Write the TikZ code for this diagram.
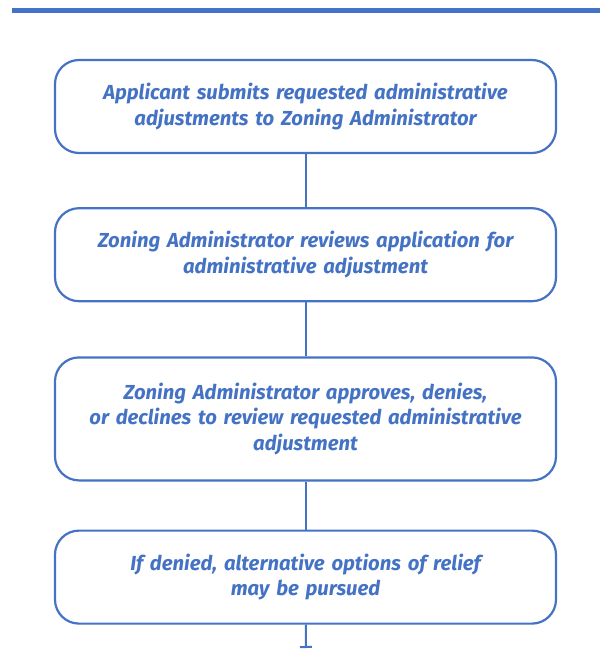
\documentclass[tikz,border=0pt]{standalone}
\usepackage{fontspec}
\setmainfont{Fira Sans}
\definecolor{zoneblue}{RGB}{68, 114, 196}
\usetikzlibrary{arrows.meta, positioning}

\begin{document}
\begin{tikzpicture}[
        x=1pt, y=-1pt,
        node distance=53pt,
        stepbox/.style={rectangle, rounded corners=24pt, draw=zoneblue, line width=2.2pt,
                    text=zoneblue, text width=470pt, minimum width=501pt,
                    minimum height=93pt, align=center,
                    font=\fontsize{20.3}{25.5}\selectfont\bfseries\itshape},
        link/.style={line width=2pt, color=zoneblue}
      ]
        \useasboundingbox (0,0) rectangle (605,656);
        \draw[line width=5pt, zoneblue] (12,10.5) -- (600,10.5);
        \node[stepbox] (submit) at (305.5,106.5) {Applicant submits requested administrative\\adjustments to Zoning Administrator};
        \node[stepbox, below=of submit] (review) {Zoning Administrator reviews application for\\administrative adjustment};
        \node[stepbox, below=54pt of review, minimum height=123pt] (decide) {Zoning Administrator approves, denies,\\or declines to review requested administrative\\adjustment};
        \node[stepbox, below=48pt of decide] (relief) {If denied, alternative options of relief\\may be pursued};
        \coordinate (end) at (306,648);
        \draw[link] (submit) -- (review);
        \draw[link] (review) -- (decide);
        \draw[link] (decide) -- (relief);
        \draw[link, -{Bar[width=12pt]}] (relief) -- (end);
      \end{tikzpicture}
\end{document}
